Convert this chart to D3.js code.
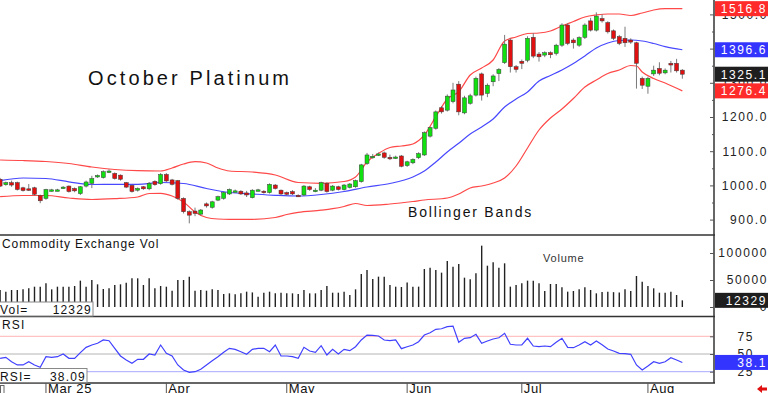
<!DOCTYPE html>
<html lang="en">
<head>
  <meta charset="UTF-8">
  <title>October Platinum</title>
  <style>
    body, html { margin: 0; background: #fff; }
    svg { display: block; font-family: 'Liberation Sans', Arial, sans-serif; }
  </style>
</head>
<body>
  <svg id="svg" width="768" height="393"></svg>

  <script src="https://cdn.jsdelivr.net/npm/d3@7"></script>
  <script>
    // daily OHLC, index 0 = first visible session (late Feb 2025)
    const open = [1018,1002,1008,1008,993,990,993,970,962,985,986,992,998,991,976,998,1006,1025,1023,1041,
      1035,1030,1008,1000,986,996,990,1012,1005,1032,1016,1014,962,923,925,916,946,936,957,962,
      975,983,983,978,964,986,983,979,1001,986,979,982,971,972,996,985,986,1006,986,996,
      988,994,996,1011,1064,1084,1091,1095,1082,1082,1086,1058,1066,1081,1089,1144,1167,1227,1220,1245,
      1296,1212,1240,1264,1326,1269,1303,1327,1359,1425,1347,1363,1366,1433,1384,1381,1388,1386,1410,1469,
      1425,1410,1433,1481,1454,1488,1476,1452,1435,1430,1425,1417,1313,1290,1326,1342,1329,1357,1357,1337];
    const high = [1022,1011,1014,1011,996,1004,996,973,990,990,990,998,1000,994,998,1014,1028,1032,1044,1047,
      1038,1032,1010,1002,994,998,1010,1015,1036,1036,1019,1016,965,927,935,931,950,955,970,982,
      991,988,986,984,989,990,986,1006,1004,988,982,986,974,1001,999,992,1011,1009,1001,999,
      1004,1007,1017,1063,1095,1092,1096,1099,1090,1087,1089,1072,1079,1097,1158,1172,1219,1232,1266,1300,
      1305,1262,1268,1318,1330,1298,1325,1343,1440,1430,1352,1368,1436,1445,1390,1392,1392,1414,1474,1474,
      1430,1436,1474,1490,1506,1500,1480,1456,1440,1464,1430,1420,1318,1318,1350,1360,1342,1364,1370,1340];
    const low = [995,999,996,985,982,984,970,948,958,982,983,990,979,980,972,994,992,1022,1020,1036,
      1017,1014,992,979,982,987,986,999,1002,1010,1000,958,918,889,910,912,935,932,954,958,
      972,980,972,966,962,983,976,976,988,971,970,972,967,969,984,980,983,979,983,985,
      985,991,993,1008,1060,1078,1086,1078,1074,1077,1053,1054,1062,1077,1086,1140,1163,1210,1216,1240,
      1205,1208,1236,1260,1248,1258,1290,1305,1355,1330,1330,1340,1360,1372,1362,1375,1372,1380,1405,1410,
      1400,1405,1428,1450,1450,1476,1444,1425,1410,1405,1414,1283,1282,1268,1320,1322,1325,1330,1330,1312];
    const close = [998,1008,1001,988,985,988,974,955,988,987,987,995,982,984,996,1010,1020,1029,1040,1042,
      1020,1018,995,982,991,990,1006,1002,1032,1013,1003,962,923,913,918,928,940,952,967,979,
      988,984,975,972,986,987,979,1003,991,975,974,975,970,998,988,986,1008,982,998,988,
      1001,1004,1014,1060,1089,1085,1092,1082,1078,1083,1056,1069,1076,1093,1154,1169,1215,1215,1261,1279,
      1215,1256,1262,1313,1264,1293,1320,1339,1413,1347,1339,1357,1430,1378,1376,1388,1382,1410,1469,1415,
      1417,1432,1469,1454,1495,1481,1449,1430,1415,1417,1419,1357,1293,1313,1337,1328,1337,1352,1335,1325.1];

    // Bollinger bands read at sampled sessions: [session index, price]
    const upperBand = [[0,1074.3],[4,1072.8],[8,1069.9],[12,1064.0],[16,1053.8],[20,1046.5],[24,1043.0],[28,1042.1],
      [30,1050.9],[32,1062.6],[34,1069.3],[36,1065.5],[38,1050.9],[40,1042.1],[44,1039.2],[48,1030.4],[52,1008.5],
      [56,1006.1],[60,1011.4],[62,1024.6],[64,1068.4],[66,1093.3],[68,1110.8],[70,1115.2],[72,1121.0],[74,1147.4],
      [76,1200.9],[78,1252.6],[80,1274.0],[82,1322.8],[84,1343.3],[86,1366.7],[88,1422.2],[90,1433.9],[92,1444.2],
      [94,1445.6],[96,1451.5],[98,1466.1],[100,1479.2],[102,1492.4],[104,1498.2],[106,1501.2],[108,1501.2],
      [110,1496.8],[112,1504.1],[114,1512.9],[116,1516.7],[119,1516.8]];
    const midBand = [[0,1013.7],[4,1021.6],[8,1020.2],[12,1010.5],[16,1002.6],[20,1003.2],[24,1003.2],[28,1008.5],
      [32,1005.6],[36,990.9],[40,979.2],[44,974.9],[48,971.1],[52,969.0],[56,973.4],[60,982.2],[64,995.3],
      [68,1005.6],[72,1024.6],[74,1042.1],[76,1068.4],[78,1097.7],[80,1123.1],[82,1150.3],[84,1170.8],[86,1194.2],
      [88,1229.2],[90,1252.6],[92,1273.1],[94,1305.3],[96,1321.3],[98,1337.4],[100,1356.4],[102,1378.4],
      [104,1401.8],[106,1416.4],[108,1423.7],[110,1425.1],[112,1422.2],[114,1414.9],[116,1405.6],[119,1396.6]];
    const lowerBand = [[0,966.9],[4,970.5],[8,970.5],[12,963.2],[16,958.8],[20,961.1],[24,966.1],[26,976.3],
      [28,976.9],[30,969.0],[32,951.5],[34,922.2],[36,906.1],[38,901.8],[40,900.9],[44,900.9],[48,906.1],
      [50,914.9],[52,921.3],[56,927.5],[58,931.9],[60,938.3],[62,947.1],[64,941.2],[68,945.6],[72,952.9],
      [74,957.3],[78,963.2],[80,974.9],[82,992.4],[84,998.2],[86,1007.0],[88,1021.6],[90,1056.7],[92,1109.4],
      [94,1162.0],[96,1197.1],[98,1223.4],[100,1254.1],[102,1287.7],[104,1308.2],[106,1327.2],[108,1337.4],
      [110,1350.6],[111,1349.1],[112,1331.6],[114,1312.6],[116,1299.4],[119,1276.4]];

    const volume = [31500,28400,31500,31500,32700,34600,37600,37600,43800,32700,37600,37600,37600,38900,48800,37600,50000,42000,33300,34600,
      40700,42000,45000,53100,53100,40700,53100,34600,38900,37600,30200,50000,50000,56200,30200,31500,30200,32700,31500,24100,
      25300,23400,25300,28400,27000,19100,26500,28400,25300,26500,25300,25300,24100,31500,25300,25300,31500,38900,26500,26500,
      28400,22200,32700,61100,68500,51900,56200,56200,40700,37600,37000,45500,37700,37700,70400,72900,68500,63600,85200,74700,
      79600,54300,51200,62300,113600,76500,82700,72900,80900,37700,40700,43800,48800,48800,43800,29600,42600,42600,36400,28400,
      29600,32700,36400,31500,25300,28000,28400,27500,26800,32700,29600,57400,46900,38900,34600,26500,26500,28400,22200,12329];

    const rsi = [43.9,45.3,39.1,34.5,34.5,39.1,34.5,31.2,46.2,45.3,46.2,50,43.9,43.9,51.9,59.4,62.7,65.1,69.8,68.8,
      58,47.2,41.5,36.9,42.5,42.5,50,48.6,62.7,51,47.2,34.5,27.4,24.1,25,28.4,34.5,40.5,46.2,52.4,
      58,56.6,53.2,49.6,56.5,58,58,53.2,62.7,47.2,47.2,46.2,43.9,59.4,54.2,52.4,61.7,48.6,56.6,50,
      56.6,54.7,60.3,69.8,76.8,76.4,75.4,69.8,68.8,69.8,57.5,60.3,62.7,67.4,76.8,80.1,84.9,85.7,88.6,89.5,
      66.5,72.2,73,77.8,65.1,68.4,71.2,73,79.2,63.7,62.7,62.7,72.2,61.3,60.3,61.3,60.3,66.5,72.2,59.4,
      58.9,62.7,67.4,62.7,68.4,63,57,54.2,51,50.5,49.6,34.5,27.4,33,39.1,36.9,39.1,44.8,41.5,38.09];

    const monthLabels = ['Mar 25', 'Apr', 'May', 'Jun', 'Jul', 'Aug'];
    const monthIndex = [8, 29, 50, 71, 91, 113];
    const priceTicks = [900, 1000, 1100, 1200, 1300, 1400, 1500];
    const volTicks = [0, 50000, 100000];
    const rsiTicks = [25, 50, 75];

    const lastClose = close[close.length - 1];
    const lastUpper = upperBand[upperBand.length - 1][1];
    const lastMid = midBand[midBand.length - 1][1];
    const lastLower = lowerBand[lowerBand.length - 1][1];
    const lastVol = volume[volume.length - 1];
    const lastRsi = rsi[rsi.length - 1];

    const plotRight = 714;
    const svg = d3.select('#svg');

    const x = d3.scaleLinear().domain([0, 124]).range([0.1, 711]);
    const yP = d3.scaleLinear().domain([900, 1500]).range([219.6, 14.4]);
    const yV = d3.scaleLinear().domain([0, 100000]).range([307, 253]);
    const yR = d3.scaleLinear().domain([25, 75]).range([371.7, 336.3]);

    svg.append('defs').append('clipPath').attr('id', 'plotClip')
      .append('rect').attr('x', 0).attr('y', 0).attr('width', plotRight).attr('height', 383);

    const plot = svg.append('g').attr('clip-path', 'url(#plotClip)');

    // RSI reference lines
    const refColors = { 25: '#a8a8ff', 50: '#b4b4b4', 75: '#ffb4b4' };
    plot.selectAll('.rsiRef')
      .data(rsiTicks)
      .enter()
      .append('line')
      .attr('x1', 0).attr('x2', plotRight)
      .attr('y1', d => yR(d)).attr('y2', d => yR(d))
      .attr('stroke', d => refColors[d])
      .attr('stroke-width', 1);

    // bands
    const bandLine = d3.line()
      .x(d => x(d[0]))
      .y(d => yP(d[1]))
      .curve(d3.curveMonotoneX);

    plot.append('path').datum(upperBand).attr('d', bandLine)
      .attr('fill', 'none').attr('stroke', '#ff4848').attr('stroke-width', 1.2);
    plot.append('path').datum(lowerBand).attr('d', bandLine)
      .attr('fill', 'none').attr('stroke', '#ff4848').attr('stroke-width', 1.2);
    plot.append('path').datum(midBand).attr('d', bandLine)
      .attr('fill', 'none').attr('stroke', '#4848ff').attr('stroke-width', 1.2);

    // candles
    const candles = d3.range(close.length);
    plot.selectAll('.wick')
      .data(candles)
      .enter()
      .append('line')
      .attr('x1', i => x(i)).attr('x2', i => x(i))
      .attr('y1', i => yP(high[i])).attr('y2', i => yP(low[i]))
      .attr('stroke', '#7a7a7a')
      .attr('stroke-width', 1);

    plot.selectAll('.body')
      .data(candles)
      .enter()
      .append('rect')
      .attr('x', i => x(i) - 2)
      .attr('width', 4)
      .attr('y', i => yP(Math.max(open[i], close[i])))
      .attr('height', i => Math.max(1.5, Math.abs(yP(open[i]) - yP(close[i]))))
      .attr('fill', i => close[i] >= open[i] ? '#10e010' : '#e01010')
      .attr('stroke', '#3a3a3a')
      .attr('stroke-width', 0.5);

    // volume
    plot.selectAll('.vol')
      .data(candles)
      .enter()
      .append('line')
      .attr('x1', i => x(i)).attr('x2', i => x(i))
      .attr('y1', yV(0)).attr('y2', i => yV(volume[i]))
      .attr('stroke', '#222')
      .attr('stroke-width', 1.4);

    // RSI
    plot.append('path')
      .datum(candles)
      .attr('d', d3.line().x(i => x(i)).y(i => yR(rsi[i])))
      .attr('fill', 'none')
      .attr('stroke', '#4040ff')
      .attr('stroke-width', 1.2);

    // panel frames
    [235, 316.5, 383].forEach(yy => {
      svg.append('line').attr('x1', 0).attr('x2', plotRight + 1)
        .attr('y1', yy).attr('y2', yy)
        .attr('stroke', '#333').attr('stroke-width', 1.5);
    });
    svg.append('line').attr('x1', plotRight).attr('x2', plotRight)
      .attr('y1', 0).attr('y2', 383)
      .attr('stroke', '#333').attr('stroke-width', 1.5);

    // right axes
    function rightAxis(scale, ticks, fmt, labelX, anchor) {
      const g = svg.append('g').attr('transform', `translate(${plotRight},0)`);
      g.call(d3.axisLeft(scale).tickValues(ticks).tickSize(4).tickFormat(''));
      g.select('.domain').remove();
      g.selectAll('line').attr('stroke', '#555');
      const t = svg.append('g').attr('transform', `translate(${plotRight},0)`)
        .call(d3.axisRight(scale).tickValues(ticks).tickSize(0).tickFormat(fmt));
      t.select('.domain').remove();
      t.attr('font-family', null).attr('font-size', null);
      t.selectAll('text')
        .attr('x', labelX)
        .attr('text-anchor', anchor)
        .attr('fill', '#222')
        .style('font-size', '12px')
        .style('letter-spacing', '1.6px');
    }
    rightAxis(yP, priceTicks, d3.format('.1f'), 54, 'end');
    rightAxis(yV, volTicks, d3.format('d'), 54, 'end');
    rightAxis(yR, rsiTicks, d3.format('d'), 40, 'end');

    // minor price ticks
    svg.append('g').attr('transform', `translate(${plotRight},0)`)
      .call(d3.axisLeft(yP).tickValues(d3.range(950, 1500, 100)).tickSize(2).tickFormat(''))
      .call(g => g.select('.domain').remove())
      .selectAll('line').attr('stroke', '#555');

    // last value boxes
    function valueBox(yy, label, color) {
      svg.append('rect')
        .attr('x', plotRight + 1).attr('y', yy - 7.5)
        .attr('width', 768 - plotRight - 1).attr('height', 15)
        .attr('fill', color);
      svg.append('text')
        .attr('x', 767).attr('y', yy + 4.5)
        .attr('text-anchor', 'end')
        .attr('fill', '#fff')
        .style('font-size', '12px')
        .style('letter-spacing', '1.6px')
        .text(label);
    }
    valueBox(yP(lastUpper), lastUpper.toFixed(1), '#ff2a2a');
    valueBox(yP(lastMid), lastMid.toFixed(1), '#3434ff');
    valueBox(yP(lastClose), lastClose.toFixed(1), '#1e1e1e');
    valueBox(yP(lastLower), lastLower.toFixed(1), '#ff2a2a');
    valueBox(yV(lastVol), String(lastVol), '#1e1e1e');
    valueBox(yR(lastRsi), lastRsi.toFixed(1), '#3434ff');

    // panel labels
    function label(tx, ty, str, size, spacing, color) {
      return svg.append('text')
        .attr('x', tx).attr('y', ty)
        .attr('fill', color || '#111')
        .style('font-size', size + 'px')
        .style('letter-spacing', spacing + 'px')
        .text(str);
    }
    label(88, 85, 'October Platinum', 20, 3.1);
    label(408, 217, 'Bollinger Bands', 14, 1.8);
    label(2, 248, 'Commodity Exchange Vol', 12, 0.9);
    label(543, 262, 'Volume', 11, 0.8, '#333');
    label(2, 329, 'RSI', 12, 1.2);

    // readout boxes
    function readout(yTop, w, name, val) {
      svg.append('rect')
        .attr('x', -1).attr('y', yTop).attr('width', w).attr('height', 14)
        .attr('fill', '#fff').attr('stroke', '#888').attr('stroke-width', 1);
      label(0, yTop + 12, name, 12, 1.2);
      svg.append('text')
        .attr('x', w - 2).attr('y', yTop + 12)
        .attr('text-anchor', 'end')
        .attr('fill', '#111')
        .style('font-size', '12px')
        .style('letter-spacing', '1.2px')
        .text(val);
    }
    readout(302, 94, 'Vol=', String(lastVol));
    readout(368.5, 88, 'RSI=', lastRsi.toFixed(2));

    // month axis
    svg.selectAll('.mtick')
      .data(monthIndex)
      .enter()
      .append('line')
      .attr('x1', d => x(d)).attr('x2', d => x(d))
      .attr('y1', 383).attr('y2', 393)
      .attr('stroke', '#555').attr('stroke-width', 1);
    svg.selectAll('.mlabel')
      .data(monthLabels)
      .enter()
      .append('text')
      .attr('x', (d, i) => x(monthIndex[i]) + 2)
      .attr('y', 393)
      .attr('fill', '#111')
      .style('font-size', '13px')
      .style('letter-spacing', '0.6px')
      .text(d => d);
    svg.append('rect').attr('x', 0.5).attr('y', 385.5).attr('width', 3.5).attr('height', 8)
      .attr('fill', 'none').attr('stroke', '#666').attr('stroke-width', 1);

    // scroll arrow
    svg.append('path')
      .attr('d', 'M757,389 L762,385 L762,387.5 L767,387.5 L767,390.5 L762,390.5 L762,393 Z')
      .attr('fill', '#e01010');
  </script>
</body>
</html>
